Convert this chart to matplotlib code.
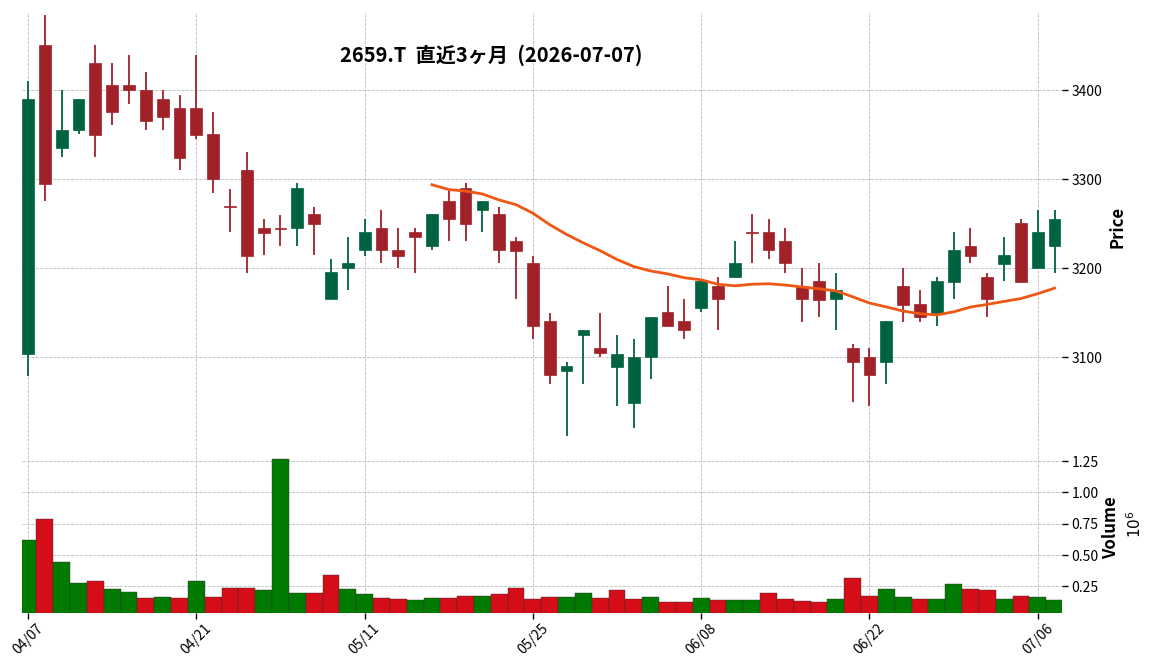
import numpy as np
import pandas as pd
import matplotlib
matplotlib.use("Agg")
import matplotlib.pyplot as plt

plt.rcParams['font.family'] = ['Noto Sans CJK JP', 'DejaVu Sans']

# 2659.T daily OHLC, last 3 months
opens = [3104, 3451, 3334.5, 3355, 3431, 3406, 3406, 3400, 3390, 3380,
         3380, 3351, 3270, 3310, 3245, 3245, 3245, 3261, 3165, 3200,
         3220, 3245, 3220.6, 3241, 3224.4, 3276, 3290, 3265, 3261, 3231,
         3206, 3141, 3085, 3124.4, 3110, 3089.5, 3049, 3100, 3150.6, 3141,
         3155, 3180, 3190, 3241, 3241, 3231, 3180, 3186, 3165, 3110,
         3100, 3095, 3180, 3160, 3149.5, 3185, 3225, 3190, 3205, 3251,
         3200, 3224.4]
highs = [3410.5, 3485, 3400, 3390, 3451, 3430, 3440, 3420, 3400, 3395,
         3440, 3375, 3289.5, 3330, 3255, 3260, 3295.5, 3269, 3210, 3234.5,
         3255, 3265, 3245, 3245, 3261, 3289, 3295.5, 3276, 3269, 3235,
         3214, 3150, 3095, 3131, 3150, 3124.7, 3120, 3145.5, 3180, 3165,
         3186, 3190.6, 3231, 3261, 3255, 3245, 3200, 3206, 3195, 3115,
         3110, 3141, 3200, 3175, 3190, 3241, 3245, 3195, 3235, 3255,
         3265, 3265]
lows = [3079, 3275, 3325, 3350.6, 3325, 3361, 3385, 3355, 3355, 3310,
        3345, 3285, 3240.5, 3195, 3215, 3225, 3225, 3215, 3165, 3175,
        3214, 3206, 3200, 3195, 3220, 3230, 3230, 3240.5, 3206, 3165,
        3120, 3070, 3011, 3070, 3100, 3045, 3020.6, 3075.3, 3134.5, 3120,
        3151, 3130, 3190, 3206, 3210, 3195, 3140, 3145, 3130, 3049.5,
        3045, 3070, 3140, 3140, 3135, 3165, 3206, 3145, 3186, 3185,
        3200, 3195]
closes = [3390, 3295, 3355.4, 3390, 3350, 3375, 3400, 3365, 3370, 3324,
          3350, 3300, 3269, 3214, 3240, 3244, 3290, 3250, 3196, 3206,
          3241, 3220, 3214, 3234.5, 3261, 3255, 3250, 3276, 3220, 3219,
          3134.5, 3079.4, 3090, 3131, 3105, 3104, 3100, 3145.5, 3134.5, 3130,
          3186, 3165, 3206, 3240, 3220.4, 3205.5, 3165, 3164, 3175.3, 3095,
          3079.4, 3141, 3159, 3145, 3186, 3220.6, 3214, 3165, 3215, 3185,
          3241, 3255.5]
volumes = [0.621, 0.787, 0.447, 0.274, 0.289, 0.226, 0.203, 0.155, 0.163, 0.155,
           0.289, 0.163, 0.234, 0.234, 0.218, 1.268, 0.195, 0.195, 0.337, 0.226,
           0.187, 0.155, 0.147, 0.139, 0.155, 0.155, 0.171, 0.171, 0.187, 0.234,
           0.147, 0.163, 0.163, 0.195, 0.155, 0.218, 0.147, 0.163, 0.124, 0.124,
           0.155, 0.139, 0.139, 0.139, 0.195, 0.147, 0.132, 0.124, 0.147, 0.313,
           0.171, 0.226, 0.163, 0.147, 0.147, 0.266, 0.226, 0.218, 0.147, 0.171,
           0.163, 0.139]  # x 1e6

holidays = ['2026-04-29', '2026-05-04', '2026-05-05', '2026-05-06']
dates = pd.bdate_range('2026-04-07', '2026-07-07', freq='C', holidays=holidays)

o = np.array(opens)
h = np.array(highs)
l = np.array(lows)
c = np.array(closes)
v = np.array(volumes)
x = np.arange(len(c))

up_c, dn_c = '#006340', '#A02128'
vup_c, vdn_c = '#007a00', '#d50d18'
ma_c = '#ef5714'

fig = plt.figure(figsize=(11.56, 6.70), dpi=100)
ax = fig.add_axes([22 / 1156, 1 - 441 / 670, 1040 / 1156, 429 / 670])
axv = fig.add_axes([22 / 1156, 1 - 613 / 670, 1040 / 1156, 170 / 670], sharex=ax)

# candles
cc = np.where(c >= o, up_c, dn_c)
ax.vlines(x, l, h, colors=cc, linewidth=1.3, zorder=2)
body = np.abs(c - o)
body = np.where(body < 0.8, 0.8, body)
ax.bar(x, body, bottom=np.minimum(o, c), width=0.7, color=cc,
       edgecolor=cc, linewidth=0.5, zorder=3)

# 25-day moving average
ma = pd.Series(c).rolling(25).mean()
ax.plot(x, ma, color=ma_c, linewidth=2, zorder=4)

# volume, coloured against previous close
prev = np.r_[c[0] - 1, c[:-1]]
vc = np.where(c >= prev, vup_c, vdn_c)
axv.bar(x, v, width=1.0, color=vc, edgecolor='#333333', linewidth=0.3, zorder=2)

rng = h.max() - l.min()
ax.set_ylim(l.min() - 0.011 * rng, h.max() + 0.006 * rng)
axv.set_ylim(0.3 * v.min(), 1.1 * v.max())
ax.set_xlim(-0.36, 61.44)

for a in (ax, axv):
    for s in a.spines.values():
        s.set_visible(False)
    a.grid(True, linestyle='--', color='#bbbbbb', linewidth=0.6)
    a.set_axisbelow(True)
    a.yaxis.tick_right()
    a.yaxis.set_label_position('right')
    a.tick_params(axis='y', length=4, width=1, labelsize=10, pad=3)

ax.set_yticks([3100, 3200, 3300, 3400])
ax.tick_params(axis='x', length=0, labelbottom=False)
axv.set_yticks([0.25, 0.5, 0.75, 1.0, 1.25])
axv.set_yticklabels(['0.25', '0.50', '0.75', '1.00', '1.25'])

tick_idx = list(range(0, len(x), 10))
axv.set_xticks(tick_idx)
axv.set_xticklabels([dates[i].strftime('%m/%d') for i in tick_idx],
                    rotation=45, ha='center', fontsize=10)
axv.tick_params(axis='x', length=4, width=1, pad=2)

ax.set_ylabel('Price', fontsize=12, fontweight='bold', labelpad=4)
axv.set_ylabel('Volume', fontsize=12, fontweight='bold', labelpad=2)
fig.text(1136 / 1156, 1 - 524 / 670, r'$10^{6}$', rotation=90, fontsize=11,
         ha='center', va='center')

fig.text(491 / 1156, 1 - 55 / 670, '2659.T  直近3ヶ月  (2026-07-07)',
         fontsize=14.5, fontweight='bold', ha='center', va='center')

fig.savefig('out.png', dpi=100)
